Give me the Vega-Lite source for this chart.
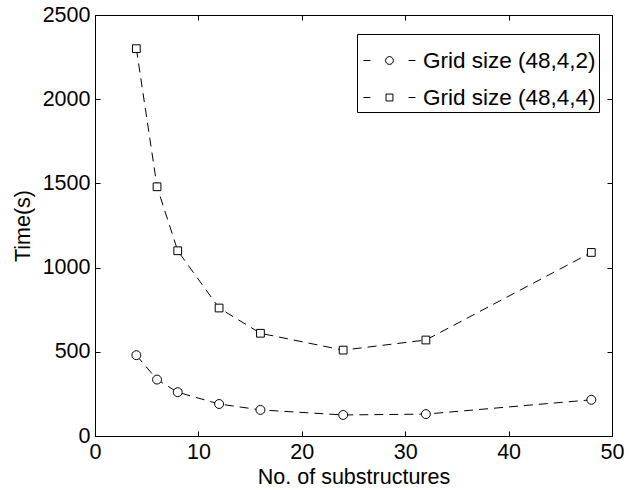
{
  "$schema": "https://vega.github.io/schema/vega-lite/v6.json",
  "width": 517,
  "height": 421,
  "autosize": "none",
  "padding": {"left": 95, "top": 15, "right": 17, "bottom": 54},
  "background": "white",
  "config": {
    "view": {"stroke": "black", "strokeWidth": 1},
    "font": "Liberation Sans",
    "axis": {
      "domain": false,
      "grid": false,
      "tickSize": -5,
      "tickColor": "black",
      "tickWidth": 1,
      "labelColor": "black",
      "labelFont": "Liberation Sans",
      "labelFontSize": 21.5,
      "titleFont": "Liberation Sans",
      "titleFontSize": 21.5,
      "titleFontWeight": "normal",
      "titleColor": "black"
    }
  },
  "data": {
    "values": [
      {"n": 4, "time": 480, "series": "Grid size (48,4,2)"},
      {"n": 6, "time": 335, "series": "Grid size (48,4,2)"},
      {"n": 8, "time": 260, "series": "Grid size (48,4,2)"},
      {"n": 12, "time": 190, "series": "Grid size (48,4,2)"},
      {"n": 16, "time": 155, "series": "Grid size (48,4,2)"},
      {"n": 24, "time": 125, "series": "Grid size (48,4,2)"},
      {"n": 32, "time": 130, "series": "Grid size (48,4,2)"},
      {"n": 48, "time": 215, "series": "Grid size (48,4,2)"},
      {"n": 4, "time": 2300, "series": "Grid size (48,4,4)"},
      {"n": 6, "time": 1480, "series": "Grid size (48,4,4)"},
      {"n": 8, "time": 1100, "series": "Grid size (48,4,4)"},
      {"n": 12, "time": 760, "series": "Grid size (48,4,4)"},
      {"n": 16, "time": 610, "series": "Grid size (48,4,4)"},
      {"n": 24, "time": 510, "series": "Grid size (48,4,4)"},
      {"n": 32, "time": 570, "series": "Grid size (48,4,4)"},
      {"n": 48, "time": 1090, "series": "Grid size (48,4,4)"}
    ]
  },
  "resolve": {"axis": {"x": "independent", "y": "independent"}},
  "layer": [
    {
      "mark": {"type": "line", "interpolate": "linear", "stroke": "black", "strokeWidth": 1, "strokeDash": [9, 6]},
      "encoding": {
        "x": {"field": "n", "type": "quantitative", "scale": {"domain": [0, 50], "nice": false},
              "axis": {"orient": "bottom", "values": [0, 10, 20, 30, 40, 50], "labelPadding": 10, "title": "No. of substructures", "titlePadding": 4, "labelFlush": false}},
        "y": {"field": "time", "type": "quantitative", "scale": {"domain": [0, 2500], "nice": false},
              "axis": {"orient": "left", "values": [0, 500, 1000, 1500, 2000, 2500], "format": "d", "labelPadding": 10, "title": "Time(s)", "titlePadding": 8, "labelFlush": false}},
        "detail": {"field": "series"}
      }
    },
    {
      "transform": [{"filter": "datum.series === 'Grid size (48,4,2)'"}],
      "mark": {"type": "point", "shape": "circle", "filled": false, "fill": "white", "fillOpacity": 1, "stroke": "black", "strokeWidth": 1, "size": 80, "opacity": 1},
      "encoding": {
        "x": {"field": "n", "type": "quantitative", "axis": {"orient": "top", "values": [0, 10, 20, 30, 40, 50], "labels": false, "title": null}},
        "y": {"field": "time", "type": "quantitative", "axis": {"orient": "right", "values": [0, 500, 1000, 1500, 2000, 2500], "labels": false, "title": null}}
      }
    },
    {
      "transform": [{"filter": "datum.series === 'Grid size (48,4,4)'"}],
      "mark": {"type": "point", "shape": "square", "filled": false, "fill": "white", "fillOpacity": 1, "stroke": "black", "strokeWidth": 1, "size": 60, "opacity": 1},
      "encoding": {
        "x": {"field": "n", "type": "quantitative", "axis": null},
        "y": {"field": "time", "type": "quantitative", "axis": null}
      }
    },
    {
      "mark": {"type": "point", "opacity": 0},
      "encoding": {
        "x": {"field": "n", "type": "quantitative", "axis": null},
        "y": {"field": "time", "type": "quantitative", "axis": null},
        "shape": {
          "field": "series",
          "type": "nominal",
          "scale": {
            "domain": ["Grid size (48,4,2)", "Grid size (48,4,4)"],
            "range": [
              "M-0.87,0L-0.57,0M1.09,0L1.39,0M0.09,0A0.17,0.17,0,1,0,0.43,0A0.17,0.17,0,1,0,0.09,0Z",
              "M-0.87,0L-0.57,0M1.09,0L1.39,0M0.11,-0.15L0.41,-0.15L0.41,0.15L0.11,0.15Z"
            ]
          },
          "legend": {
            "title": null,
            "orient": "none",
            "legendX": 262,
            "legendY": 19,
            "padding": 3,
            "strokeColor": "black",
            "fillColor": "white",
            "symbolSize": 2116,
            "symbolFillColor": "white",
            "symbolStrokeColor": "black",
            "symbolStrokeWidth": 1,
            "labelFont": "Liberation Sans",
            "labelFontSize": 22.5,
            "labelColor": "black",
            "labelOffset": 16,
            "rowPadding": 2,
            "labelLimit": 400,
            "encode": {"symbols": {"update": {"opacity": {"value": 1}, "fill": {"value": "white"}, "stroke": {"value": "black"}}}}
          }
        }
      }
    }
  ]
}
